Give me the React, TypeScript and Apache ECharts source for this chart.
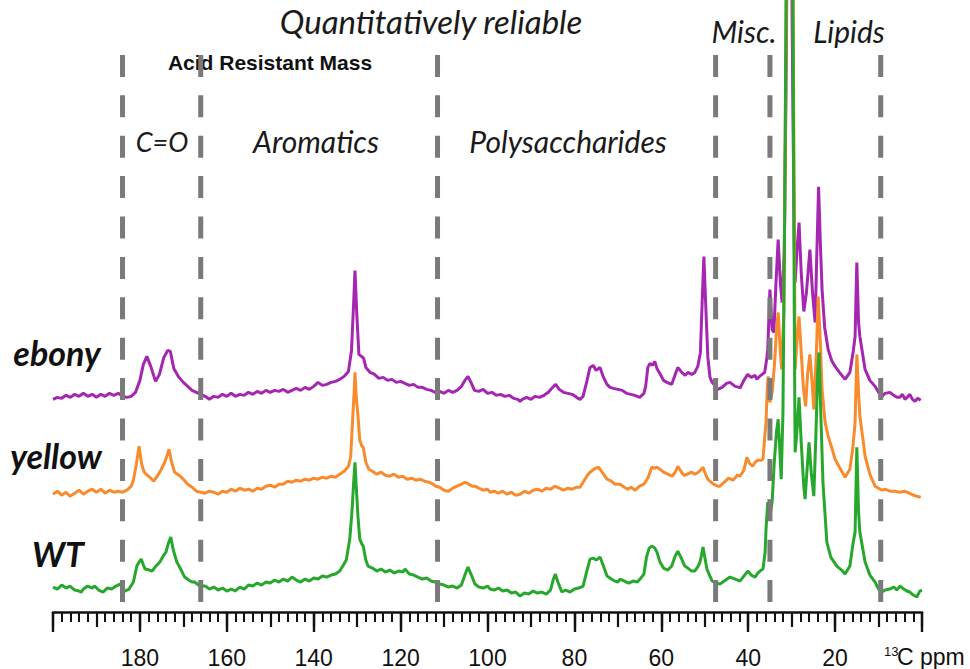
import React, { useEffect, useRef } from "react";
import * as echarts from "echarts";

// Stacked 13C NMR spectra (ppm, displayed intensity incl. vertical offset)
const ebony: [number, number][] = [
  [200.0, 213], [199.0, 215], [198.0, 214], [197.0, 217], [196.0, 215], [195.0, 218], [194.0, 216], [193.0, 219],
  [192.0, 216], [191.0, 218], [190.0, 215], [189.0, 218], [188.0, 216], [187.0, 219], [186.0, 217], [185.0, 219],
  [184.0, 216], [183.0, 215], [182.0, 216], [181.0, 220], [180.0, 232], [179.2, 248], [178.4, 256], [177.5, 246],
  [176.4, 231], [175.5, 238], [174.5, 255], [173.6, 262], [173.0, 261], [172.2, 244], [171.0, 235], [170.0, 230],
  [169.0, 226], [168.0, 222], [167.0, 220], [166.0, 218], [165.0, 216], [164.0, 213], [163.0, 216], [162.0, 215],
  [161.0, 218], [160.0, 216], [159.0, 219], [158.0, 216], [157.0, 218], [156.0, 217], [155.0, 220], [154.0, 218],
  [153.0, 221], [152.0, 219], [151.0, 222], [150.0, 220], [149.0, 222], [148.0, 221], [147.0, 223], [146.0, 220],
  [145.0, 222], [144.0, 224], [143.0, 222], [142.0, 225], [141.0, 223], [140.0, 226], [139.0, 230], [138.0, 227],
  [137.0, 228], [136.0, 230], [135.0, 231], [134.0, 233], [133.0, 236], [132.0, 241], [131.3, 262], [130.8, 310],
  [130.5, 342], [130.1, 300], [129.6, 258], [129.0, 256], [128.5, 254], [128.0, 245], [127.0, 240], [126.0, 238],
  [125.0, 234], [124.0, 235], [123.0, 232], [122.0, 233], [121.0, 230], [120.0, 231], [119.0, 229], [118.0, 227],
  [117.0, 228], [116.0, 225], [115.0, 225], [114.0, 223], [113.0, 222], [112.0, 220], [111.0, 221], [110.0, 219],
  [109.0, 222], [108.0, 220], [107.0, 222], [106.0, 226], [105.2, 232], [104.5, 236], [103.8, 230], [103.0, 222],
  [102.0, 221], [101.0, 223], [100.0, 219], [99.0, 220], [98.0, 217], [97.0, 218], [96.0, 216], [95.0, 217],
  [94.0, 214], [93.0, 213], [92.5, 211], [92.0, 213], [91.0, 215], [90.0, 213], [89.0, 216], [88.0, 215],
  [87.0, 217], [86.0, 220], [85.0, 225], [84.3, 228], [83.5, 223], [82.5, 220], [81.5, 219], [80.5, 218],
  [79.5, 215], [78.7, 213], [78.0, 216], [77.2, 230], [76.4, 245], [75.7, 247], [75.0, 242], [74.1, 245],
  [73.4, 236], [72.5, 228], [71.8, 225], [71.0, 224], [70.0, 223], [69.0, 222], [68.0, 219], [67.0, 218],
  [66.1, 217], [65.0, 215], [64.0, 219], [63.6, 226], [63.1, 245], [62.6, 249], [62.0, 247], [61.5, 251],
  [61.0, 244], [60.2, 238], [59.5, 232], [58.7, 230], [57.6, 228], [56.8, 238], [56.2, 245], [55.3, 240],
  [54.5, 237], [53.9, 240], [53.0, 238], [52.3, 240], [51.6, 246], [51.0, 260], [50.6, 310], [50.2, 356],
  [49.8, 310], [49.3, 256], [48.8, 235], [48.3, 230], [47.5, 226], [47.0, 223], [46.0, 225], [45.0, 229],
  [44.2, 230], [43.0, 226], [42.0, 225], [41.9, 224], [41.0, 232], [40.1, 238], [39.3, 235], [38.4, 237],
  [38.0, 233], [37.4, 236], [36.8, 238], [36.2, 240], [35.7, 255], [35.5, 263], [35.0, 323], [34.5, 283],
  [34.1, 280], [33.6, 330], [33.1, 373], [32.6, 330], [32.2, 310], [31.7, 360], [31.3, 520], [30.9, 750],
  [30.5, 800], [30.1, 700], [29.7, 500], [29.4, 370], [29.2, 330], [28.8, 360], [28.3, 390], [27.8, 340],
  [27.2, 301], [26.6, 320], [25.8, 363], [25.2, 320], [24.6, 290], [24.2, 360], [23.8, 426], [23.4, 370],
  [23.0, 323], [22.4, 285], [21.6, 263], [20.8, 252], [20.0, 246], [19.0, 240], [17.7, 233], [16.6, 240],
  [15.8, 262], [15.4, 276], [15.0, 350], [14.6, 290], [14.3, 276], [13.1, 243], [12.0, 232], [10.8, 226],
  [10.0, 220], [9.2, 216], [8.5, 219], [7.4, 220], [6.5, 217], [5.8, 215], [5.1, 215], [4.5, 218],
  [3.9, 213], [3.2, 216], [2.8, 218], [2.2, 213], [1.6, 211], [1.0, 214], [0.3, 212],
];

const yellow: [number, number][] = [
  [200.0, 118], [199.0, 121], [198.0, 117], [197.0, 120], [196.1, 116], [195.0, 119], [194.0, 122], [193.0, 118],
  [192.0, 121], [191.0, 123], [190.0, 120], [189.0, 123], [188.0, 119], [187.0, 122], [186.0, 120], [185.0, 121],
  [184.0, 120], [183.0, 122], [182.0, 126], [181.5, 132], [180.8, 148], [180.2, 166], [179.6, 148], [179.0, 140],
  [178.3, 137], [177.5, 134], [176.8, 131], [176.0, 136], [175.2, 142], [174.3, 150], [173.8, 156], [173.3, 163],
  [172.7, 150], [172.0, 140], [171.0, 137], [170.0, 133], [169.0, 128], [168.0, 125], [167.0, 121], [166.0, 120],
  [165.0, 119], [164.0, 121], [163.0, 120], [162.0, 118], [161.0, 121], [160.0, 120], [159.0, 123], [158.0, 121],
  [157.0, 124], [156.0, 122], [155.0, 123], [154.0, 121], [153.0, 124], [152.0, 123], [151.0, 126], [150.0, 127],
  [149.0, 125], [148.0, 128], [147.0, 128], [146.0, 131], [145.0, 130], [144.0, 132], [143.0, 131], [142.0, 133],
  [141.0, 132], [140.0, 134], [139.0, 133], [138.0, 135], [137.0, 134], [136.0, 136], [135.0, 135], [134.0, 138],
  [133.0, 141], [132.0, 146], [131.5, 155], [131.0, 196], [130.7, 220], [130.5, 240], [130.2, 215], [129.8, 196],
  [129.4, 172], [128.9, 166], [128.6, 165], [128.0, 150], [127.3, 143], [126.5, 141], [125.5, 138], [124.5, 140],
  [123.5, 137], [122.5, 136], [121.5, 138], [120.5, 135], [119.5, 136], [118.5, 133], [117.5, 134], [116.5, 132],
  [115.5, 133], [114.5, 131], [113.5, 130], [112.5, 128], [111.9, 126], [111.0, 125], [110.0, 122], [109.0, 121],
  [108.0, 124], [107.0, 126], [106.0, 128], [105.2, 130], [104.3, 128], [103.5, 126], [102.9, 126], [102.0, 124],
  [101.0, 122], [100.0, 123], [99.4, 120], [98.5, 121], [97.5, 119], [96.5, 121], [95.5, 118], [94.5, 120],
  [93.5, 117], [92.5, 118], [91.5, 121], [90.5, 119], [89.5, 122], [88.5, 123], [87.5, 121], [86.5, 124],
  [85.5, 123], [84.5, 126], [83.5, 124], [82.5, 122], [81.5, 124], [80.5, 123], [79.5, 125], [78.7, 125],
  [78.0, 130], [77.0, 137], [76.4, 140], [75.5, 143], [74.5, 145], [74.1, 143], [73.3, 138], [72.5, 133],
  [71.5, 131], [70.7, 128], [69.5, 128], [68.5, 125], [67.7, 123], [67.0, 125], [66.0, 122], [65.0, 126],
  [64.0, 128], [63.0, 135], [62.2, 145], [61.5, 144], [61.0, 145], [60.3, 143], [59.5, 140], [58.5, 138],
  [57.5, 136], [56.8, 140], [56.2, 146], [55.5, 141], [54.8, 137], [54.0, 138], [53.0, 140], [52.3, 138],
  [51.5, 140], [50.8, 143], [50.4, 145], [50.0, 140], [49.3, 133], [48.8, 131], [48.0, 128], [47.0, 126],
  [46.5, 126], [45.5, 130], [44.5, 134], [43.5, 132], [42.5, 137], [41.9, 136], [41.0, 142], [40.3, 155],
  [39.7, 149], [39.0, 146], [38.4, 150], [37.8, 152], [37.0, 152], [36.6, 153], [36.2, 175], [35.9, 190],
  [35.6, 225], [35.4, 236], [35.0, 210], [34.5, 220], [34.0, 245], [33.5, 280], [33.1, 300], [32.6, 260],
  [32.3, 243], [31.8, 300], [31.3, 560], [30.9, 800], [30.5, 880], [30.1, 800], [29.7, 640], [29.4, 400],
  [29.2, 243], [28.8, 270], [28.3, 296], [27.8, 260], [27.3, 225], [26.8, 206], [26.3, 240], [25.8, 258],
  [25.3, 230], [24.9, 203], [24.3, 260], [23.9, 316], [23.4, 270], [23.0, 223], [22.3, 190], [21.6, 176],
  [20.8, 165], [20.0, 153], [19.0, 145], [17.7, 135], [16.6, 143], [15.9, 165], [15.4, 190], [15.0, 258],
  [14.6, 220], [14.3, 196], [13.5, 170], [13.1, 156], [12.0, 138], [10.8, 126], [10.0, 124], [9.2, 122],
  [8.5, 123], [7.4, 121], [6.2, 121], [5.1, 120], [4.0, 121], [3.0, 119], [2.0, 117], [1.2, 116], [0.3, 115],
];

const wt: [number, number][] = [
  [200.0, 25], [199.0, 23], [198.0, 27], [197.0, 24], [196.1, 26], [195.0, 22], [194.0, 21], [193.5, 20],
  [193.0, 23], [192.0, 26], [191.0, 24], [190.4, 26], [189.5, 22], [188.5, 20], [187.5, 24], [186.5, 23],
  [185.5, 26], [184.6, 28], [184.0, 24], [183.5, 21], [182.5, 23], [181.5, 30], [180.7, 46], [180.2, 50],
  [179.7, 53], [179.2, 47], [178.8, 43], [177.8, 42], [177.2, 41], [176.5, 45], [175.4, 50], [174.5, 57],
  [174.0, 60], [173.5, 68], [172.9, 75], [172.3, 62], [171.5, 50], [170.5, 42], [169.7, 35], [168.8, 32],
  [168.0, 30], [167.4, 30], [166.5, 27], [165.5, 26], [165.0, 26], [164.0, 23], [163.0, 25], [162.0, 22],
  [161.0, 24], [160.0, 21], [159.0, 23], [158.1, 21], [157.0, 25], [156.0, 23], [155.0, 27], [154.0, 26],
  [153.0, 29], [152.0, 27], [151.0, 30], [150.0, 29], [149.0, 32], [148.0, 30], [147.0, 33], [146.0, 31],
  [145.0, 35], [144.0, 32], [143.0, 30], [142.0, 33], [141.0, 31], [140.0, 34], [139.0, 33], [138.0, 36],
  [137.0, 35], [136.0, 37], [135.0, 38], [134.0, 41], [133.3, 46], [132.5, 52], [131.7, 73], [131.2, 100],
  [130.8, 130], [130.5, 150], [130.2, 125], [129.8, 95], [129.4, 73], [128.9, 68], [128.6, 66], [128.0, 52],
  [127.5, 46], [126.5, 44], [125.5, 41], [124.5, 43], [123.5, 40], [122.5, 42], [121.5, 39], [120.5, 41],
  [119.5, 40], [119.0, 43], [118.0, 38], [117.0, 37], [116.0, 35], [115.0, 33], [114.0, 34], [113.0, 31],
  [112.0, 30], [111.0, 28], [110.0, 27], [109.0, 25], [108.0, 26], [107.0, 24], [106.0, 27], [105.2, 37],
  [104.5, 45], [103.8, 38], [102.9, 28], [102.0, 25], [101.0, 24], [100.0, 26], [99.4, 23], [98.5, 22],
  [97.5, 24], [96.5, 21], [95.5, 22], [94.5, 19], [93.5, 20], [92.5, 16], [91.5, 19], [90.5, 18],
  [89.5, 21], [88.5, 19], [87.5, 20], [86.5, 18], [85.5, 22], [84.9, 32], [84.4, 38], [83.8, 30],
  [82.9, 20], [82.0, 22], [81.0, 20], [80.0, 23], [79.0, 24], [78.0, 26], [77.2, 40], [76.4, 53],
  [75.7, 54], [75.0, 52], [74.1, 55], [73.4, 47], [72.5, 36], [71.5, 33], [70.7, 31], [70.0, 30],
  [69.5, 33], [68.5, 31], [67.5, 29], [66.5, 31], [65.5, 30], [64.9, 33], [64.0, 38], [63.4, 55],
  [62.8, 64], [62.2, 66], [61.5, 64], [61.0, 60], [60.3, 50], [59.5, 44], [58.5, 42], [57.6, 46],
  [56.8, 56], [56.2, 61], [55.5, 55], [54.6, 46], [53.9, 44], [53.0, 41], [52.3, 41], [51.5, 46],
  [51.1, 50], [50.8, 56], [50.4, 65], [50.0, 55], [49.5, 43], [48.8, 36], [48.3, 31], [47.5, 29],
  [46.5, 28], [45.5, 31], [44.2, 35], [43.0, 33], [41.9, 31], [41.0, 36], [40.1, 41], [39.3, 37],
  [38.4, 35], [37.8, 39], [37.0, 42], [36.6, 43], [36.1, 60], [35.9, 83], [35.5, 110], [35.0, 96],
  [34.5, 110], [34.0, 150], [33.5, 180], [33.1, 193], [32.7, 160], [32.4, 133], [32.0, 200], [31.6, 400],
  [31.3, 613], [30.9, 900], [30.5, 950], [30.1, 850], [29.7, 613], [29.4, 300], [29.2, 160], [28.8, 180],
  [28.3, 215], [27.8, 170], [27.2, 125], [26.9, 113], [26.5, 140], [26.0, 170], [25.5, 140], [24.9, 116],
  [24.4, 180], [24.0, 240], [23.7, 260], [23.3, 200], [22.8, 130], [21.9, 70], [21.0, 55], [19.6, 46],
  [18.5, 42], [17.7, 38], [16.6, 46], [15.9, 68], [15.4, 80], [15.0, 165], [14.6, 100], [14.3, 80],
  [13.1, 50], [12.0, 37], [10.8, 30], [10.0, 23], [9.2, 20], [8.5, 22], [7.4, 23], [6.5, 25],
  [5.8, 22], [5.1, 26], [4.2, 23], [3.5, 21], [2.8, 20], [2.0, 17], [1.2, 15], [0.5, 21], [0.0, 22],
];

// Region boundaries (ppm) drawn as dashed lines
const boundaries = [184, 166, 111.5, 47.5, 35, 9.5];
const dashTop = 558;
const dashBottom = 10;

const tickLabels = [180, 160, 140, 120, 100, 80, 60, 40, 20];

const seriesNames = ["ebony", "yellow", "WT"];
const seriesColors = ["#a526b0", "#f78b2d", "#27a82c"];

export default function App() {
  const ref = useRef<HTMLDivElement>(null);

  useEffect(() => {
    if (!ref.current) return;
    const chart = echarts.init(ref.current, undefined, { renderer: "svg" });
    const traces = [ebony, yellow, wt];

    const italic = (size: number) => ({
      fontFamily: "Lato",
      fontStyle: "italic",
      fontSize: size,
      fill: "#1a1a1a",
    });

    const txt = (text: string, x: number, y: number, style: any, align = "center") => ({
      type: "text",
      x,
      y,
      silent: true,
      style: {
        text,
        textAlign: align,
        textVerticalAlign: "middle",
        align,
        verticalAlign: "middle",
        ...style,
      },
    });

    const option: any = {
      animation: false,
      grid: { left: 53, right: 48, top: 0, bottom: 56 },
      xAxis: [
        {
          type: "value",
          min: 0,
          max: 200,
          inverse: true,
          interval: 20,
          axisLine: { lineStyle: { color: "#111", width: 2.5 } },
          axisTick: { length: 20, lineStyle: { color: "#111", width: 2.4 } },
          minorTick: { show: true, splitNumber: 10, length: 10, lineStyle: { color: "#111", width: 2 } },
          splitLine: { show: false },
          minorSplitLine: { show: false },
          axisLabel: {
            margin: 34,
            fontSize: 23,
            fontFamily: "Liberation Sans",
            color: "#111",
            formatter: (v: number) => (tickLabels.indexOf(v) >= 0 ? String(v) : ""),
          },
        },
        {
          type: "value",
          min: 0,
          max: 200,
          inverse: true,
          interval: 10,
          position: "bottom",
          axisLine: { show: false },
          axisTick: { length: 15, lineStyle: { color: "#111", width: 2.2 } },
          axisLabel: { show: false },
          splitLine: { show: false },
        },
      ],
      yAxis: { type: "value", min: 0, max: 613, show: false },
      series: [
        ...traces.map((d, i) => ({
          name: seriesNames[i],
          type: "line",
          data: d,
          showSymbol: false,
          symbol: "none",
          silent: true,
          z: 2 + i,
          lineStyle: { color: seriesColors[i], width: 3 },
        })),
        ...boundaries.map((b) => ({
          type: "line",
          data: [
            [b, dashTop],
            [b, dashBottom],
          ],
          showSymbol: false,
          symbol: "none",
          silent: true,
          z: 10,
          lineStyle: { color: "#7a7a7a", width: 5, type: [22, 18.4] },
        })),
      ],
      graphic: [
        txt("Quantitatively reliable", 431, 21, italic(33)),
        txt("Acid Resistant Mass", 270, 62, {
          fontFamily: "Liberation Sans",
          fontWeight: "bold",
          fontSize: 21,
          fill: "#111",
        }),
        txt("C=O", 162, 141, italic(27)),
        txt("Aromatics", 316, 141, italic(30)),
        txt("Polysaccharides", 568, 141, italic(30)),
        txt("Misc.", 744, 31, italic(30)),
        txt("Lipids", 849, 31, italic(30)),
        txt("ebony", 57, 352, { ...italic(34), fontWeight: "bold", fill: "#111" }),
        txt("yellow", 56, 455, { ...italic(34), fontWeight: "bold", fill: "#111" }),
        txt("WT", 58, 553, { ...italic(34), fontWeight: "bold", fill: "#111" }),
        txt("13", 884, 651, { fontFamily: "Liberation Sans", fontSize: 13, fill: "#111" }, "left"),
        txt("C ppm", 897, 657, { fontFamily: "Liberation Sans", fontSize: 23, fill: "#111" }, "left"),
      ],
    };

    chart.setOption(option);
    return () => chart.dispose();
  }, []);

  return (
    <div
      ref={ref}
      style={{ position: "fixed", left: 0, top: 0, width: 970, height: 669, background: "#fff" }}
    />
  );
}
